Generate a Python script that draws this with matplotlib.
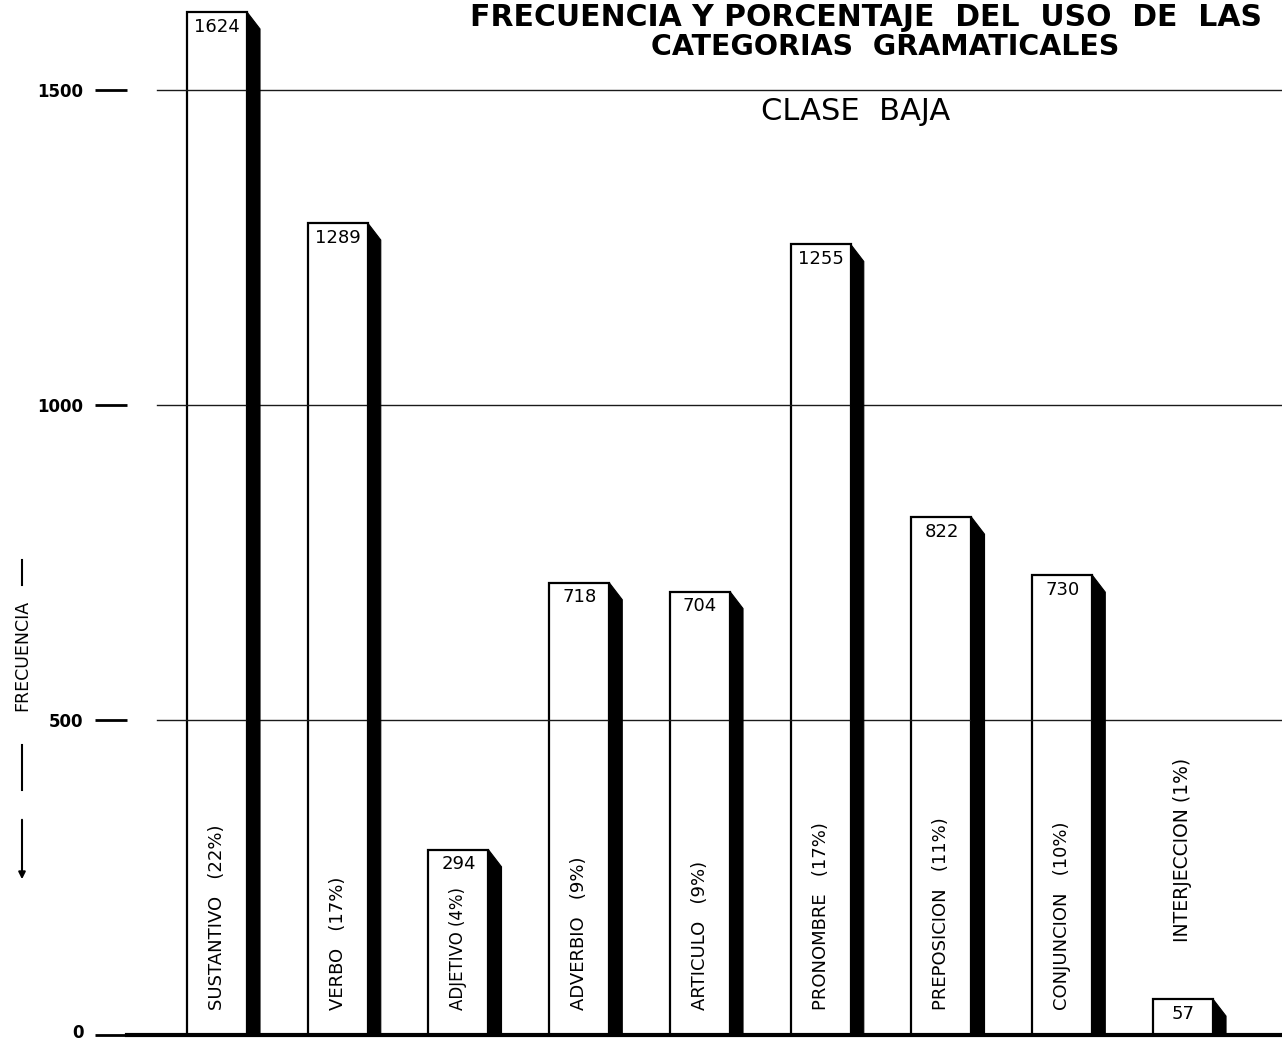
import numpy as np
import matplotlib.pyplot as plt
import matplotlib.transforms as mtransforms
from matplotlib.patches import Polygon
from matplotlib.lines import Line2D

categorias = ['SUSTANTIVO', 'VERBO', 'ADJETIVO', 'ADVERBIO', 'ARTICULO',
              'PRONOMBRE', 'PREPOSICION', 'CONJUNCION', 'INTERJECCION']
frecuencias = [1624, 1289, 294, 718, 704, 1255, 822, 730, 57]
porcentajes = ['22%', '17%', '4%', '9%', '9%', '17%', '11%', '10%', '1%']
yticks = [0, 500, 1000, 1500]

W, H = 1282, 1042
fig = plt.figure(figsize=(W / 100, H / 100), dpi=100)
fig.patch.set_facecolor('white')

# axes: left edge at the end of the tick dash, bottom on the base line
ax = fig.add_axes([127 / W, 7 / H, 1 - 127 / W, 1 - 7 / H])
ax.set_xlim(-0.745, 8.82)
ax.set_ylim(0, 1643)

x = np.arange(len(categorias))
ancho = 0.497
dx = 0.108     # shadow width
bisel = 27     # shadow bevel (in frequency units)

ax.bar(x, frecuencias, width=ancho, color='white', edgecolor='black',
       linewidth=1.6, zorder=2)

for xi, v in zip(x, frecuencias):
    xr = xi + ancho / 2
    sombra = Polygon([(xr, 0), (xr, v), (xr + dx, v - bisel), (xr + dx, 0)],
                     closed=True, facecolor='black', edgecolor='black',
                     linewidth=0.8, zorder=4)
    ax.add_patch(sombra)
    ax.annotate(str(v), (xi, v), xytext=(0, -4), textcoords='offset points',
                ha='center', va='top', fontsize=13, color='black', zorder=5)

# grid lines start a little right of the tick dashes
for t in yticks[1:]:
    ax.axhline(t, xmin=30 / (W - 127), xmax=1, color='#1a1a1a',
               linewidth=1.0, zorder=3)

# category labels, rotated, inside the bars (above the bar if it is too short)
for xi, v, c, p in zip(x, frecuencias, categorias, porcentajes):
    if v > 300:
        ax.text(xi, 40, c + '   (' + p + ')', rotation=90, ha='center',
                va='bottom', fontsize=13, color='black', zorder=6)
    elif v > 200:
        ax.text(xi, 40, c + ' (' + p + ')', rotation=90, ha='center',
                va='bottom', fontsize=12, color='black', zorder=6)
    else:
        ax.text(xi, v + 90, c + ' (' + p + ')', rotation=90, ha='center',
                va='bottom', fontsize=13.5, color='black', zorder=6)

ax.set_yticks(yticks)
ax.set_yticklabels([str(t) for t in yticks], fontsize=12, fontweight='bold')
ax.tick_params(axis='y', direction='out', length=23, width=2, pad=8.5)
# lift the "0" a little so it stays inside the picture
lbl0 = ax.get_yticklabels()[0]
lbl0.set_transform(lbl0.get_transform() +
                   mtransforms.ScaledTranslation(0, 4 / 100, fig.dpi_scale_trans))
ax.set_xticks([])
for s in ['left', 'top', 'right']:
    ax.spines[s].set_visible(False)
ax.spines['bottom'].set_linewidth(3)

# y label with dashes and arrow
fig.text(22 / W, 1 - 655 / H, 'FRECUENCIA', rotation=90, ha='center',
         va='center', fontsize=12.5, color='black')
fig.add_artist(Line2D([22 / W, 22 / W], [1 - 560 / H, 1 - 585 / H],
                      color='black', linewidth=1.5))
fig.add_artist(Line2D([22 / W, 22 / W], [1 - 745 / H, 1 - 790 / H],
                      color='black', linewidth=1.5))
ax.annotate('', xy=(22, H - 882), xytext=(22, H - 817),
            xycoords='figure pixels', textcoords='figure pixels',
            arrowprops=dict(arrowstyle='-|>', color='black', lw=1.5,
                            mutation_scale=10),
            annotation_clip=False)

# titles
fig.text(866 / W, 1 - 18 / H, 'FRECUENCIA Y PORCENTAJE  DEL  USO  DE  LAS',
         ha='center', va='center', fontsize=21.5, fontweight='bold')
fig.text(885 / W, 1 - 47 / H, 'CATEGORIAS  GRAMATICALES',
         ha='center', va='center', fontsize=20.5, fontweight='bold')
fig.text(856 / W, 1 - 112 / H, 'CLASE  BAJA', ha='center', va='center',
         fontsize=22)

fig.savefig('out.png', dpi=100, facecolor='white')
